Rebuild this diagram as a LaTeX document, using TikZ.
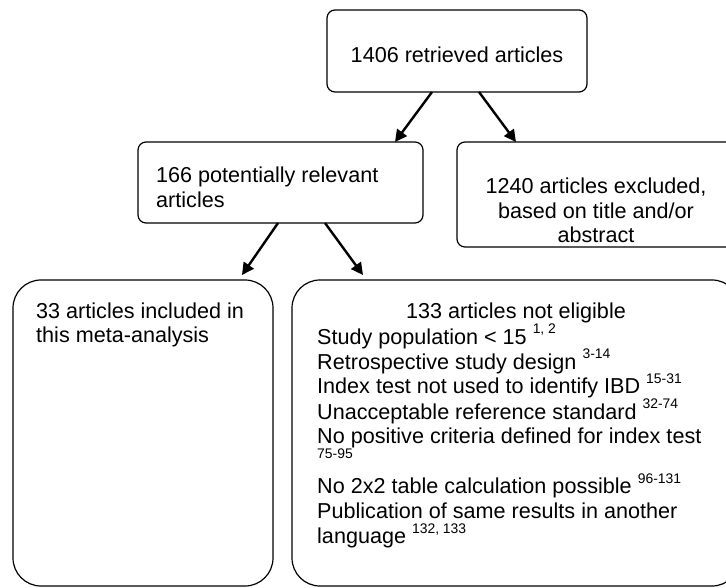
\documentclass[tikz,border=0pt]{standalone}
\usepackage{fontspec}
\setmainfont{Liberation Sans}
\usetikzlibrary{arrows.meta}
\newcommand\sups[1]{\raisebox{10.7pt}[0pt][0pt]{\fontsize{13.9}{14}\selectfont #1}}
\begin{document}
\begin{tikzpicture}[x=1pt,y=-1pt,
  box/.style={draw, line width=1.2pt, rounded corners=8pt, inner sep=0pt, outer sep=0pt},
  bigbox/.style={draw, line width=1.2pt, rounded corners=28pt, inner sep=0pt, outer sep=0pt},
  txt/.style={inner sep=0pt, font=\fontsize{21.6}{24.5}\selectfont},
  txtwide/.style={inner sep=0pt, font=\fontsize{21.6}{25}\selectfont},
  arr/.style={line width=2.4pt, -{Triangle[length=12pt,width=12pt]}}]
\path[fill=white] (0,0) rectangle (726,588);
\useasboundingbox (0,0) rectangle (726,588);

% boxes
\node[box, minimum width=260pt, minimum height=82pt] (ret) at (457,51) {};
\node[box, minimum width=285pt, minimum height=81pt] (rel) at (280.5,182.5) {};
\node[box, minimum width=278pt, minimum height=105pt] (exc) at (596,194.5) {};
\node[bigbox, minimum width=260pt, minimum height=306pt] (inc) at (143,433) {};
\node[bigbox, minimum width=448pt, minimum height=306pt] (nel) at (516,433) {};

% texts
\node[txt, anchor=base] (retT) at (457,62.3) {1406 retrieved articles};
\node[txt, anchor=base west] (relT) at (156,183)
  {\begin{tabular}[t]{@{}l@{}}166 potentially relevant\\articles\end{tabular}};
\node[txt, anchor=base] (excT) at (596,194)
  {\begin{tabular}[t]{@{}c@{}}1240 articles excluded,\\based on title and/or\\abstract\end{tabular}};
\node[txt, anchor=base west] (incT) at (36,318)
  {\begin{tabular}[t]{@{}l@{}}33 articles included in\\this meta-analysis\end{tabular}};
\node[txtwide, anchor=base] (nelT) at (516,319) {133 articles not eligible};
\node[txtwide, anchor=base west] (nelL) at (317,344)
  {\begin{tabular}[t]{@{}l@{}}
   Study population < 15 \sups{1, 2}\\
   Retrospective study design \sups{3-14}\\
   Index test not used to identify IBD \sups{15-31}\\
   Unacceptable reference standard \sups{32-74}\\
   No positive criteria defined for index test\\
   \sups{75-95}\\
   No 2x2 table calculation possible \sups{96-131}\\
   Publication of same results in another\\
   language \sups{132, 133}
  \end{tabular}};

% connectors
\draw[arr] ([xshift=-25pt]ret.south) -- ([xshift=114.5pt]rel.north);
\draw[arr] ([xshift=22pt]ret.south) -- ([xshift=-80pt]exc.north);
\draw[arr] ([xshift=-2.5pt]rel.south) -- ([xshift=99pt,yshift=5pt]inc.north);
\draw[arr] ([xshift=44.5pt]rel.south) -- ([xshift=-153pt,yshift=5pt]nel.north);
\end{tikzpicture}
\end{document}
